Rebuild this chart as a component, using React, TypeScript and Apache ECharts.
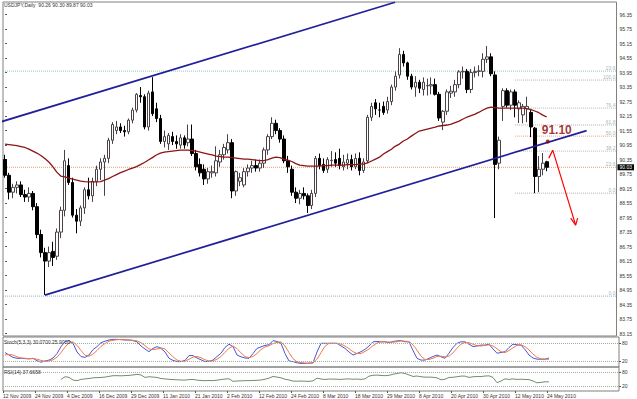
import React, { useEffect, useRef } from "react";
import * as echarts from "echarts";

const symbolName = "USDJPY,Daily";
const dateTicks = [
  "12 Nov 2009", "24 Nov 2009", "4 Dec 2009", "16 Dec 2009", "29 Dec 2009", "11 Jan 2010",
  "21 Jan 2010", "2 Feb 2010", "12 Feb 2010", "24 Feb 2010", "8 Mar 2010", "18 Mar 2010",
  "29 Mar 2010", "8 Apr 2010", "20 Apr 2010", "30 Apr 2010", "12 May 2010", "24 May 2010",
];
const barsPerTick = 8;
const slotCount = 154;

const opens = [
  90.35, 89.70, 89.00, 89.20, 89.30, 88.90, 88.80, 88.95, 88.40, 87.25,
  86.50, 86.15, 86.55, 86.35, 87.35, 88.25, 90.10, 89.40, 88.05, 87.80,
  88.35, 89.10, 88.85, 89.45, 89.95, 90.25, 90.40, 91.15, 91.55, 91.70,
  91.55, 91.50, 91.98, 92.40, 93.00, 92.95, 91.70, 93.15, 92.45, 92.05,
  91.10, 91.00, 91.30, 91.10, 90.95, 91.25, 91.05, 91.20, 90.60, 90.15,
  89.95, 89.55, 89.80, 89.80, 90.25, 90.55, 90.75, 91.05, 89.05, 89.45,
  89.30, 89.85, 90.00, 90.10, 90.00, 90.20, 90.75, 91.30, 91.85, 91.55,
  91.20, 90.30, 89.95, 89.00, 88.75, 88.95, 88.85, 88.45, 88.95, 90.40,
  90.15, 89.95, 90.30, 90.35, 90.40, 90.05, 90.20, 90.35, 90.05, 90.40,
  89.90, 90.30, 92.10, 92.70, 92.40, 92.55, 92.40, 92.75, 93.35, 93.85,
  94.70, 94.35, 93.80, 93.35, 93.55, 93.25, 93.40, 93.40, 93.45, 93.05,
  91.90, 92.35, 93.10, 93.15, 93.45, 93.98, 94.00, 93.25, 93.95, 94.00,
  94.00, 94.50, 94.60, 93.85, 90.20, 92.55, 93.20, 92.60, 93.15, 92.45,
  92.20, 92.45, 92.30, 91.65, 89.65, 89.95, 90.26,
];
const highs = [
  90.55, 89.80, 89.35, 89.45, 89.45, 89.10, 89.20, 89.05, 88.55, 87.45,
  86.70, 86.75, 86.95, 87.50, 88.40, 90.75, 90.40, 89.60, 88.30, 88.45,
  89.20, 89.60, 89.60, 90.10, 90.40, 90.55, 91.25, 91.90, 91.95, 91.85,
  91.75, 92.05, 92.50, 93.10, 93.35, 93.05, 93.20, 93.76, 92.70, 92.20,
  91.55, 91.45, 91.50, 91.35, 91.40, 91.35, 91.80, 91.80, 90.75, 90.40,
  90.15, 90.00, 90.10, 90.90, 90.75, 91.00, 91.40, 91.20, 89.90, 89.80,
  90.00, 90.15, 90.30, 90.35, 90.35, 90.85, 91.40, 92.10, 92.00, 91.65,
  91.35, 90.50, 90.10, 89.20, 89.10, 89.20, 88.95, 89.10, 90.50, 90.60,
  90.40, 90.45, 90.70, 90.65, 90.80, 90.55, 90.60, 90.55, 90.60, 90.65,
  90.40, 92.20, 92.70, 92.85, 92.70, 92.75, 92.95, 93.45, 94.00, 94.96,
  94.85, 94.40, 93.90, 93.80, 93.65, 93.75, 93.70, 93.75, 93.70, 93.15,
  92.40, 93.25, 93.40, 93.65, 94.05, 94.20, 94.10, 94.10, 94.20, 94.25,
  94.75, 95.05, 94.75, 94.00, 91.30, 93.30, 93.30, 93.25, 93.25, 92.80,
  92.65, 92.95, 92.45, 91.70, 90.50, 90.62, 90.30,
];
const lows = [
  89.60, 88.70, 88.75, 88.95, 88.80, 88.60, 88.60, 88.25, 87.10, 86.30,
  84.75, 85.90, 85.95, 86.20, 87.10, 88.00, 89.30, 87.95, 87.30, 87.60,
  88.10, 88.70, 88.60, 89.25, 89.50, 88.85, 90.20, 91.00, 91.40, 91.45,
  91.30, 91.40, 91.85, 92.30, 92.70, 91.60, 91.55, 92.15, 91.90, 91.00,
  90.85, 90.75, 90.95, 90.80, 90.80, 90.80, 90.90, 90.50, 89.90, 89.65,
  89.30, 89.35, 89.60, 89.65, 90.05, 90.35, 90.60, 88.75, 88.85, 89.25,
  89.20, 89.65, 89.80, 89.85, 89.85, 90.00, 90.55, 91.20, 91.40, 91.05,
  90.20, 89.80, 88.85, 88.55, 88.50, 88.70, 88.14, 88.30, 88.80, 89.95,
  89.80, 89.80, 90.05, 90.05, 89.95, 89.90, 89.95, 89.90, 89.95, 89.70,
  89.80, 90.20, 91.95, 92.20, 92.10, 92.20, 92.25, 92.60, 93.20, 93.70,
  94.20, 93.65, 93.25, 92.95, 93.10, 93.00, 93.00, 93.05, 93.00, 91.95,
  91.57, 92.20, 92.90, 92.95, 93.30, 93.70, 93.10, 93.10, 93.75, 93.80,
  93.75, 94.35, 93.80, 87.93, 89.95, 91.95, 92.50, 92.40, 92.10, 91.86,
  91.85, 91.90, 91.28, 88.96, 89.00, 89.70, 89.87,
];
const closes = [
  89.70, 89.00, 89.20, 89.30, 88.90, 88.80, 88.95, 88.40, 87.25, 86.50,
  86.15, 86.50, 86.30, 87.35, 88.25, 90.30, 89.40, 88.05, 87.80, 88.35,
  89.10, 88.85, 89.45, 89.95, 90.25, 90.40, 91.15, 91.80, 91.70, 91.55,
  91.50, 91.98, 92.40, 93.05, 92.95, 91.70, 93.10, 92.25, 92.05, 91.10,
  91.30, 91.35, 91.10, 91.00, 91.25, 90.95, 91.20, 90.60, 90.05, 89.80,
  89.55, 89.85, 89.85, 90.30, 90.55, 90.85, 91.05, 89.05, 89.85, 89.60,
  89.85, 90.00, 90.10, 90.00, 90.20, 90.75, 91.30, 91.85, 91.55, 91.20,
  90.30, 90.05, 89.00, 88.75, 88.95, 88.85, 88.45, 88.95, 90.40, 90.10,
  89.90, 90.35, 90.32, 90.20, 90.10, 90.25, 90.35, 90.05, 90.40, 89.90,
  90.25, 92.10, 92.55, 92.45, 92.40, 92.30, 92.75, 93.35, 93.80, 94.70,
  94.35, 93.80, 93.35, 93.55, 93.30, 93.55, 93.42, 93.45, 93.05, 92.07,
  92.35, 93.15, 93.18, 93.45, 93.98, 94.00, 93.25, 93.95, 94.00, 94.02,
  94.50, 94.60, 93.90, 90.15, 91.15, 93.20, 92.60, 93.15, 92.60, 92.70,
  92.55, 92.55, 91.70, 89.65, 89.95, 90.20, 90.03,
];
const movingAverage = [
  90.99, 90.97, 90.95, 90.93, 90.89, 90.85, 90.78, 90.70, 90.62, 90.52,
  90.39, 90.25, 90.06, 89.83, 89.67, 89.63, 89.58, 89.54, 89.50, 89.46,
  89.44, 89.43, 89.43, 89.43, 89.44, 89.50, 89.56, 89.65, 89.73, 89.81,
  89.87, 89.94, 90.00, 90.06, 90.14, 90.23, 90.33, 90.43, 90.54, 90.62,
  90.66, 90.68, 90.70, 90.72, 90.74, 90.74, 90.74, 90.72, 90.70, 90.66,
  90.62, 90.58, 90.54, 90.49, 90.47, 90.45, 90.45, 90.43, 90.41, 90.39,
  90.37, 90.37, 90.35, 90.33, 90.31, 90.31, 90.35, 90.41, 90.45, 90.43,
  90.37, 90.33, 90.27, 90.18, 90.12, 90.10, 90.08, 90.08, 90.08, 90.08,
  90.10, 90.10, 90.12, 90.12, 90.12, 90.12, 90.14, 90.14, 90.14, 90.16,
  90.16, 90.21, 90.29, 90.37, 90.45, 90.58, 90.68, 90.78, 90.91, 90.99,
  91.12, 91.20, 91.32, 91.43, 91.53, 91.57, 91.61, 91.65, 91.69, 91.74,
  91.76, 91.78, 91.82, 91.88, 91.94, 92.03, 92.11, 92.17, 92.23, 92.31,
  92.40, 92.48, 92.52, 92.50, 92.48, 92.48, 92.48, 92.48, 92.48, 92.48,
  92.48, 92.46, 92.42, 92.36, 92.29, 92.19, 92.11,
];
const stochMain = [
  48, 40, 32, 29, 29, 28, 27, 29, 21, 16,
  20, 23, 30, 45, 68, 85, 88, 79, 50, 35,
  32, 40, 58, 68, 81, 86, 90, 92, 92, 91,
  90, 90, 88, 84, 70, 60, 51, 62, 68, 62,
  50, 29, 22, 18, 18, 22, 38, 38, 30, 24,
  18, 19, 23, 35, 46, 65, 76, 68, 40, 34,
  30, 29, 45, 62, 67, 72, 74, 88, 85, 79,
  45, 20, 18, 14, 12, 12, 13, 14, 50, 79,
  79, 79, 79, 79, 70, 62, 50, 40, 45, 51,
  59, 70, 84, 85, 84, 84, 81, 85, 87, 88,
  84, 84, 55, 29, 23, 23, 29, 35, 40, 34,
  29, 46, 65, 79, 84, 84, 76, 68, 70, 73,
  73, 76, 60, 46, 48, 51, 65, 76, 74, 73,
  58, 40, 30, 26, 26, 26, 30.07,
];
const stochSignal = [
  40, 42, 40, 34, 30, 29, 28, 28, 26, 22,
  19, 20, 24, 33, 48, 66, 80, 84, 72, 55,
  39, 36, 43, 55, 69, 78, 86, 89, 91, 92,
  91, 90, 89, 87, 81, 71, 60, 58, 60, 64,
  60, 47, 34, 23, 19, 19, 26, 33, 35, 31,
  24, 20, 20, 26, 35, 49, 62, 70, 61, 47,
  35, 31, 35, 45, 58, 67, 71, 78, 82, 84,
  70, 48, 28, 17, 15, 13, 12, 13, 26, 48,
  69, 79, 79, 79, 76, 70, 61, 51, 45, 45,
  52, 60, 71, 80, 84, 84, 83, 83, 84, 87,
  86, 85, 74, 56, 36, 25, 25, 29, 35, 36,
  34, 36, 47, 63, 76, 82, 81, 76, 71, 70,
  72, 74, 70, 61, 51, 48, 55, 64, 72, 74,
  68, 57, 43, 32, 27, 26, 25.9,
];
const rsi = [
  null, null, null, null, null, null, null, null, null, null,
  null, null, null, null, 48.6, 59.4, 56.9, 45.7, 43.1, 48.3,
  50.5, 52, 55, 55.7, 56.5, 58, 60.9, 63.8, 63.9, 63.2,
  64.2, 65, 66.9, 69.4, 66.9, 56.5, 59.4, 58, 56.5, 52,
  50.5, 48.6, 47.5, 46.8, 45.7, 45.3, 47.5, 48.3, 45.3, 43.8,
  42.9, 43.8, 43.1, 45.3, 47.5, 49.8, 51.2, 40.2, 41.6, 42.3,
  43.1, 43.1, 43.8, 44.5, 46, 49, 53.5, 60.6, 58, 55,
  49, 46, 41.4, 40.8, 41.6, 40.8, 40.2, 42.3, 53.5, 49.8,
  48.3, 49.8, 49.8, 49, 48.3, 49.8, 50.5, 49, 49.8, 48.3,
  50.5, 62.1, 65.4, 66.3, 64.7, 63.9, 65.4, 69.9, 72.9, 76.1,
  72.9, 66.9, 60.6, 62.4, 59.4, 57.8, 58, 57.2, 55, 46.6,
  49, 56.5, 57.2, 59.4, 62.1, 62.1, 56.5, 59.4, 60.2, 60.2,
  62.4, 63.2, 56.5, 34.6, 41.6, 50.5, 48.3, 50.5, 48.3, 49,
  48.3, 47.5, 41.6, 34, 36, 38.5, 37.6658,
];

const priceTicks = [
  83.15, 83.75, 84.35, 84.95, 85.55, 86.15, 86.75, 87.35, 87.95, 88.55, 89.15, 89.75,
  90.35, 90.95, 91.55, 92.15, 92.75, 93.35, 93.95, 94.55, 95.15, 95.75, 96.35,
];
const priceMin = 83.05;
const priceMax = 96.87;
const oscTicks = [20, 80, 100];
const oscLevels = [80, 20];

// Fibonacci levels (label, price)
const fibRecentLabels = ["100.0", "76.4", "61.8", "50.0", "38.2", "0.0"];
const fibRecentPrices = [93.64, 92.48, 91.78, 91.32, 90.70, 88.96];
const fibRecentStart = 128;
const fibWideLabels = ["23.6", "23.6", "0.0"];
const fibWidePrices = [94.01, 90.03, 84.70];

// trend channel anchors [bar, price]
const channelUpper = [[-1.25, 91.9], [97.9, 96.86]];
const channelLower = [[10, 84.74], [146, 91.55]];
const targetPoint = [[136.25, 91.1]];
const arrowPath = [[136.5, 90.41], [137.5, 90.74], [143.25, 87.64]];
const arrowHead = [[142, 87.93], [143.25, 87.64], [143.75, 87.93]];

const FONT = "Liberation Sans, Arial, sans-serif";
const small = { fontSize: 5, color: "#333", fontFamily: FONT };

function oscLabel(v: number) {
  return v === 100 ? `{top|${v}}` : String(v);
}
const oscRich = { top: { fontSize: 5, color: "#333", fontFamily: FONT, padding: [8, 0, 0, 0] } };

function buildOption() {
  const n = closes.length;
  const last = n - 1;
  const slots = Array.from({ length: slotCount }, (_, i) => String(i));
  const dateSlots = Array.from({ length: slotCount + 1 }, (_, i) =>
    i % barsPerTick === 0 && i / barsPerTick < dateTicks.length ? dateTicks[i / barsPerTick] : ""
  );
  const candleData = closes.map((c, i) => [opens[i], c, lows[i], highs[i]]);
  const fmt = (v: number) => v.toFixed(2);

  const fibSeries: any[] = [];
  const fibColorsRecent = ["#a9b9c4", "#b0bcb0", "#aab4aa", "#e0a88a", "#b0bcb0", "#aab8aa"];
  fibRecentPrices.forEach((p, k) => {
    fibSeries.push({
      type: "line", xAxisIndex: 1, yAxisIndex: 0, symbol: "none", silent: true,
      data: [[fibRecentStart, p], [slotCount - 0.5, p]],
      lineStyle: { color: fibColorsRecent[k], width: 1, type: "dotted" }, z: 1,
    });
  });
  const fibColorsWide = ["#8cc8c0", "#e8a070", "#9aaabb"];
  fibWidePrices.forEach((p, k) => {
    fibSeries.push({
      type: "line", xAxisIndex: 1, yAxisIndex: 0, symbol: "none", silent: true,
      data: [[-0.5, p], [slotCount - 0.5, p]],
      lineStyle: { color: fibColorsWide[k], width: 1, type: "dotted" }, z: 1,
    });
  });
  const fibLabelData = [
    ...fibRecentLabels.map((l, k) => ({ name: l, value: [slotCount - 0.5, fibRecentPrices[k]] })),
    ...fibWideLabels.map((l, k) => ({ name: l, value: [slotCount - 0.5, fibWidePrices[k]] })),
  ];

  return {
    animation: false,
    backgroundColor: "#ffffff",
    title: [
      {
        text: `${symbolName}  ${fmt(opens[last])} ${fmt(highs[last])} ${fmt(lows[last])} ${fmt(closes[last])}`,
        left: 4, top: 2, padding: 0,
        textStyle: { ...small, fontWeight: "normal" },
      },
      {
        text: `Stoch(5,3,3) ${stochMain[last].toFixed(4)} ${stochSignal[last].toFixed(4)}`,
        left: 4, top: 339, padding: 0,
        textStyle: { ...small, fontWeight: "normal" },
      },
      {
        text: `RSI(14) ${(rsi[last] as number).toFixed(4)}`,
        left: 4, top: 369, padding: 0,
        textStyle: { ...small, fontWeight: "normal" },
      },
    ],
    grid: [
      { left: 3, top: 2, width: 616, height: 334, show: true, borderColor: "#808080", borderWidth: 1, containLabel: false },
      { left: 3, top: 337, width: 616, height: 30, show: true, borderColor: "#808080", borderWidth: 1, containLabel: false },
      { left: 3, top: 367, width: 616, height: 24, show: true, borderColor: "#808080", borderWidth: 1, containLabel: false },
    ],
    xAxis: [
      { type: "category", gridIndex: 0, data: slots, boundaryGap: true, show: false },
      { type: "value", gridIndex: 0, min: -0.5, max: slotCount - 0.5, show: false },
      { type: "category", gridIndex: 1, data: slots, boundaryGap: true, show: false },
      { type: "category", gridIndex: 2, data: slots, boundaryGap: true, show: false, position: "top" },
      {
        type: "category", gridIndex: 2, data: dateSlots, boundaryGap: false, position: "bottom",
        axisLine: { show: false },
        axisTick: { show: true, interval: (i: number) => dateSlots[i] !== "", length: 2, lineStyle: { color: "#555" } },
        axisLabel: { ...small, interval: 0, align: "left", margin: 2, hideOverlap: false },
        splitLine: { show: false },
      },
    ],
    yAxis: [
      {
        type: "value", gridIndex: 0, position: "right", min: priceMin, max: priceMax,
        splitLine: { show: false }, axisLine: { show: false },
        axisTick: { show: true, customValues: priceTicks, length: 2, lineStyle: { color: "#555" } },
        axisLabel: { ...small, customValues: priceTicks, formatter: (v: number) => v.toFixed(2), margin: 3 },
      },
      {
        type: "value", gridIndex: 0, position: "right", min: priceMin, max: priceMax,
        splitLine: { show: false }, axisLine: { show: false }, axisTick: { show: false },
        axisLabel: {
          customValues: [closes[last]], formatter: (v: number) => v.toFixed(2),
          fontSize: 5, fontFamily: FONT, color: "#fff", backgroundColor: "#000", padding: [1, 2, 0, 2], margin: 1,
        },
      },
      {
        type: "value", gridIndex: 1, position: "right", min: 0, max: 100,
        splitLine: { show: false }, axisLine: { show: false },
        axisTick: { show: true, customValues: oscTicks, length: 2, lineStyle: { color: "#555" } },
        axisLabel: { ...small, customValues: oscTicks, margin: 3, formatter: oscLabel, rich: oscRich },
      },
      {
        type: "value", gridIndex: 2, position: "right", min: 0, max: 100,
        splitLine: { show: false }, axisLine: { show: false },
        axisTick: { show: true, customValues: oscTicks, length: 2, lineStyle: { color: "#555" } },
        axisLabel: { ...small, customValues: oscTicks, margin: 3, formatter: oscLabel, rich: oscRich },
      },
    ],
    series: [
      ...fibSeries,
      {
        type: "scatter", xAxisIndex: 1, yAxisIndex: 0, symbolSize: 0, silent: true,
        data: fibLabelData,
        label: { show: true, formatter: "{b}", position: "left", distance: 1, offset: [0, -3.5], fontSize: 5, color: "#8aa59a", fontFamily: FONT },
        z: 2,
      },
      {
        type: "candlestick", xAxisIndex: 0, yAxisIndex: 0, data: candleData, barWidth: 3,
        itemStyle: { color: "#ffffff", color0: "#000000", borderColor: "#4a4048", borderColor0: "#000000", borderWidth: 1 },
        z: 3,
      },
      {
        type: "line", xAxisIndex: 0, yAxisIndex: 0, data: movingAverage, symbol: "none",
        lineStyle: { color: "#8b1414", width: 1.3 }, z: 4,
      },
      {
        type: "line", xAxisIndex: 1, yAxisIndex: 0, data: channelUpper, symbol: "none",
        lineStyle: { color: "#20209a", width: 1.7 }, z: 4,
      },
      {
        type: "line", xAxisIndex: 1, yAxisIndex: 0, data: channelLower, symbol: "none",
        lineStyle: { color: "#20209a", width: 1.7 }, z: 4,
      },
      {
        type: "line", xAxisIndex: 1, yAxisIndex: 0, data: arrowPath, symbol: "none",
        lineStyle: { color: "#ff0000", width: 1.2 }, z: 5,
      },
      {
        type: "line", xAxisIndex: 1, yAxisIndex: 0, data: arrowHead, symbol: "none",
        lineStyle: { color: "#ff0000", width: 1.2 }, z: 5,
      },
      {
        type: "scatter", xAxisIndex: 1, yAxisIndex: 0, data: targetPoint, symbolSize: 4,
        itemStyle: { color: "#8b0000" },
        label: {
          show: true, position: "top", distance: 3, offset: [9, 0],
          formatter: (p: any) => p.value[1].toFixed(2),
          fontSize: 12, fontWeight: "bold", color: "#8b0000", fontFamily: FONT,
        },
        z: 6,
      },
      {
        type: "line", xAxisIndex: 2, yAxisIndex: 2, data: stochMain, symbol: "none",
        lineStyle: { color: "#4656d8", width: 1 },
        markLine: {
          silent: true, symbol: "none", label: { show: false },
          lineStyle: { color: "#9fb0a0", type: "dotted", width: 1 },
          data: oscLevels.map((v) => ({ yAxis: v })),
        },
      },
      {
        type: "line", xAxisIndex: 2, yAxisIndex: 2, data: stochSignal, symbol: "none",
        lineStyle: { color: "#f07a48", width: 1 },
      },
      {
        type: "line", xAxisIndex: 3, yAxisIndex: 3, data: rsi, symbol: "none", connectNulls: false,
        lineStyle: { color: "#6f8f6a", width: 1 },
        markLine: {
          silent: true, symbol: "none", label: { show: false },
          lineStyle: { color: "#9fb0a0", type: "dotted", width: 1 },
          data: oscLevels.map((v) => ({ yAxis: v })),
        },
      },
    ],
  };
}

export default function App() {
  const ref = useRef<HTMLDivElement>(null);
  useEffect(() => {
    if (!ref.current) return;
    const chart = echarts.init(ref.current, null, { renderer: "svg" });
    chart.setOption(buildOption() as any);
    return () => chart.dispose();
  }, []);
  return (
    <div
      ref={ref}
      style={{ position: "fixed", left: 0, top: 0, width: 637, height: 399, background: "#fff" }}
    />
  );
}
